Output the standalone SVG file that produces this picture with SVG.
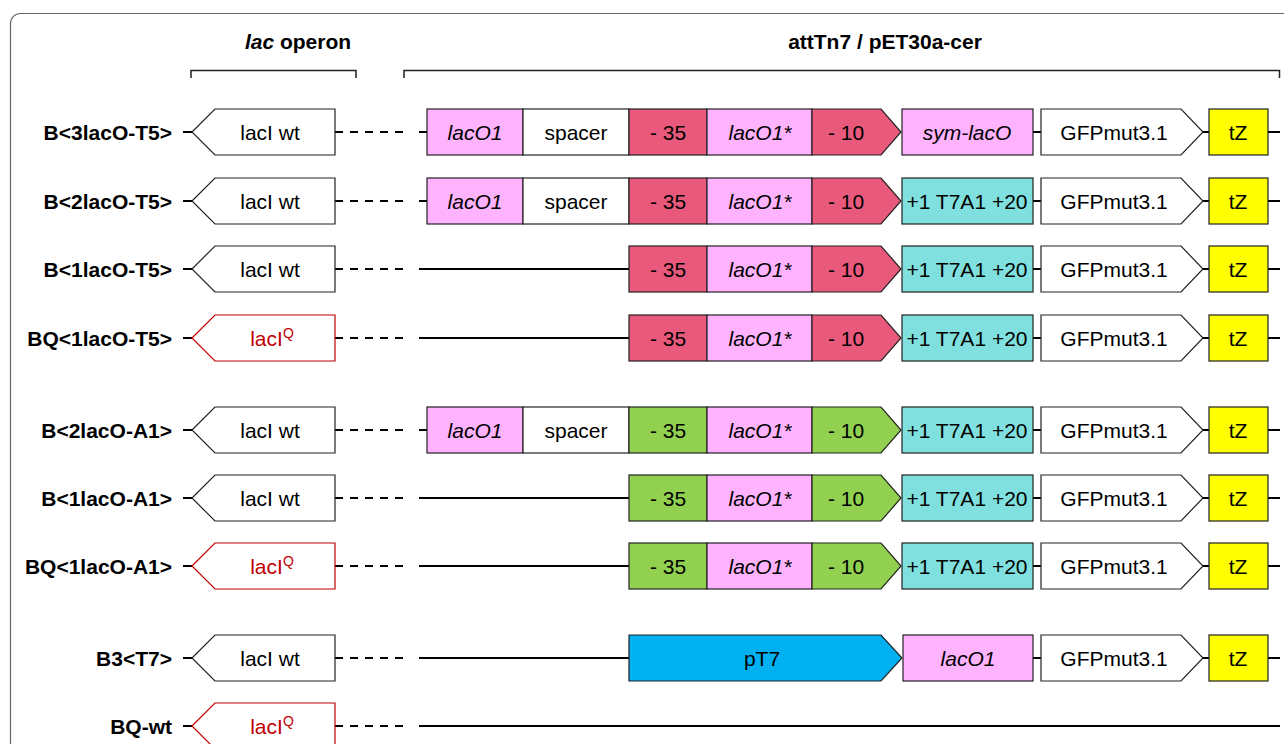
<svg xmlns="http://www.w3.org/2000/svg" width="1284" height="744" viewBox="0 0 1284 744">
  <style>
    .frame { fill: none; stroke: #666; stroke-width: 1.2; }
    .brk { fill: none; stroke: #222; stroke-width: 1.5; }
    .hdr { font: bold 21px "Liberation Sans", Arial, sans-serif; text-anchor: middle; fill: #000; }
    .lbl { font: bold 21px "Liberation Sans", Arial, sans-serif; text-anchor: end; fill: #000; }
    .t { font: 21px "Liberation Sans", Arial, sans-serif; text-anchor: middle; fill: #000; }
    .i { font-style: italic; }
    .box { stroke: #222; stroke-width: 1.2; }
    .qbox { fill: #fff; stroke: #c00000; stroke-width: 1.2; }
    .qt { fill: #c00000; }
    .w { fill: #fff; }
    .p { fill: #ffb3ff; }
    .r { fill: #e8597b; }
    .g { fill: #92d050; }
    .c { fill: #7fe0df; }
    .y { fill: #ffff00; }
    .b { fill: #00b0f0; }
    .wire { fill: none; stroke: #000; stroke-width: 2.2; }
    .dash { stroke-dasharray: 8 7; }
  </style>
  <defs>
    <polygon id="lacI" points="192,0 215,-23 335,-23 335,23 215,23"/>
    <polygon id="m10" points="812,-23 881,-23 901,0 881,23 812,23"/>
    <polygon id="gfp" points="1041,-23 1181,-23 1203,0 1181,23 1041,23"/>
  </defs>

  <!-- outer frame -->
  <rect class="frame" x="10.5" y="13.5" width="1320" height="780" rx="10"/>

  <!-- column headers -->
  <g id="header-lac">
    <text class="hdr" x="298" y="49"><tspan class="i">lac</tspan> operon</text>
    <path class="brk" d="M191 78 V70.5 H356 V78"/>
  </g>
  <g id="header-att">
    <text class="hdr" x="885" y="49">attTn7 / pET30a-cer</text>
    <path class="brk" d="M404 78 V70.5 H1279.5 V78"/>
  </g>

  <!-- connectors: backbone lines of each construct -->
  <g id="connectors">
    <g transform="translate(0,132)">
      <path class="wire" d="M183 0 H192 M1033 0 H1041 M1203 0 H1209 M1268 0 H1280 M419 0 H427"/>
      <path class="wire dash" d="M335 0 H404"/>
    </g>
    <g transform="translate(0,201)">
      <path class="wire" d="M183 0 H192 M1033 0 H1041 M1203 0 H1209 M1268 0 H1280 M419 0 H427"/>
      <path class="wire dash" d="M335 0 H404"/>
    </g>
    <g transform="translate(0,269)">
      <path class="wire" d="M183 0 H192 M1033 0 H1041 M1203 0 H1209 M1268 0 H1280 M419 0 H629"/>
      <path class="wire dash" d="M335 0 H404"/>
    </g>
    <g transform="translate(0,338)">
      <path class="wire" d="M183 0 H192 M1033 0 H1041 M1203 0 H1209 M1268 0 H1280 M419 0 H629"/>
      <path class="wire dash" d="M335 0 H404"/>
    </g>
    <g transform="translate(0,430)">
      <path class="wire" d="M183 0 H192 M1033 0 H1041 M1203 0 H1209 M1268 0 H1280 M419 0 H427"/>
      <path class="wire dash" d="M335 0 H404"/>
    </g>
    <g transform="translate(0,498)">
      <path class="wire" d="M183 0 H192 M1033 0 H1041 M1203 0 H1209 M1268 0 H1280 M419 0 H629"/>
      <path class="wire dash" d="M335 0 H404"/>
    </g>
    <g transform="translate(0,566)">
      <path class="wire" d="M183 0 H192 M1033 0 H1041 M1203 0 H1209 M1268 0 H1280 M419 0 H629"/>
      <path class="wire dash" d="M335 0 H404"/>
    </g>
    <g transform="translate(0,658)">
      <path class="wire" d="M183 0 H192 M1033 0 H1041 M1203 0 H1209 M1268 0 H1280 M419 0 H629"/>
      <path class="wire dash" d="M335 0 H404"/>
    </g>
    <g transform="translate(0,726)">
      <path class="wire" d="M183 0 H192 M419 0 H1280"/>
      <path class="wire dash" d="M335 0 H404"/>
    </g>
  </g>

  <!-- B<3lacO-T5> -->
  <g id="row-B3lacO-T5" transform="translate(0,132)">
    <text class="lbl" x="172" y="7.5">B&lt;3lacO-T5&gt;</text>
    <g id="r1-lacI"><use href="#lacI" class="box w"/><text class="t" x="270" y="7.5">lacI wt</text></g>
    <g id="r1-lacO1"><rect class="box p" x="427" y="-23" width="96" height="46"/><text class="t i" x="475" y="7.5">lacO1</text></g>
    <g id="r1-spacer"><rect class="box w" x="523" y="-23" width="106" height="46"/><text class="t" x="576" y="7.5">spacer</text></g>
    <g id="r1-m35"><rect class="box r" x="629" y="-23" width="78" height="46"/><text class="t" x="668" y="7.5">- 35</text></g>
    <g id="r1-lacO1s"><rect class="box p" x="707" y="-23" width="105" height="46"/><text class="t i" x="760" y="7.5">lacO1*</text></g>
    <g id="r1-m10"><use href="#m10" class="box r"/><text class="t" x="846" y="7.5">- 10</text></g>
    <g id="r1-symlacO"><rect class="box p" x="902" y="-23" width="131" height="46"/><text class="t i" x="967" y="7.5">sym-lacO</text></g>
    <g id="r1-gfp"><use href="#gfp" class="box w"/><text class="t" x="1114" y="7.5">GFPmut3.1</text></g>
    <g id="r1-tZ"><rect class="box y" x="1209" y="-23" width="59" height="46"/><text class="t" x="1238" y="7.5">tZ</text></g>
  </g>

  <!-- B<2lacO-T5> -->
  <g id="row-B2lacO-T5" transform="translate(0,201)">
    <text class="lbl" x="172" y="7.5">B&lt;2lacO-T5&gt;</text>
    <g id="r2-lacI"><use href="#lacI" class="box w"/><text class="t" x="270" y="7.5">lacI wt</text></g>
    <g id="r2-lacO1"><rect class="box p" x="427" y="-23" width="96" height="46"/><text class="t i" x="475" y="7.5">lacO1</text></g>
    <g id="r2-spacer"><rect class="box w" x="523" y="-23" width="106" height="46"/><text class="t" x="576" y="7.5">spacer</text></g>
    <g id="r2-m35"><rect class="box r" x="629" y="-23" width="78" height="46"/><text class="t" x="668" y="7.5">- 35</text></g>
    <g id="r2-lacO1s"><rect class="box p" x="707" y="-23" width="105" height="46"/><text class="t i" x="760" y="7.5">lacO1*</text></g>
    <g id="r2-m10"><use href="#m10" class="box r"/><text class="t" x="846" y="7.5">- 10</text></g>
    <g id="r2-t7a1"><rect class="box c" x="902" y="-23" width="131" height="46"/><text class="t" x="967" y="7.5">+1 T7A1 +20</text></g>
    <g id="r2-gfp"><use href="#gfp" class="box w"/><text class="t" x="1114" y="7.5">GFPmut3.1</text></g>
    <g id="r2-tZ"><rect class="box y" x="1209" y="-23" width="59" height="46"/><text class="t" x="1238" y="7.5">tZ</text></g>
  </g>

  <!-- B<1lacO-T5> -->
  <g id="row-B1lacO-T5" transform="translate(0,269)">
    <text class="lbl" x="172" y="7.5">B&lt;1lacO-T5&gt;</text>
    <g id="r3-lacI"><use href="#lacI" class="box w"/><text class="t" x="270" y="7.5">lacI wt</text></g>
    <g id="r3-m35"><rect class="box r" x="629" y="-23" width="78" height="46"/><text class="t" x="668" y="7.5">- 35</text></g>
    <g id="r3-lacO1s"><rect class="box p" x="707" y="-23" width="105" height="46"/><text class="t i" x="760" y="7.5">lacO1*</text></g>
    <g id="r3-m10"><use href="#m10" class="box r"/><text class="t" x="846" y="7.5">- 10</text></g>
    <g id="r3-t7a1"><rect class="box c" x="902" y="-23" width="131" height="46"/><text class="t" x="967" y="7.5">+1 T7A1 +20</text></g>
    <g id="r3-gfp"><use href="#gfp" class="box w"/><text class="t" x="1114" y="7.5">GFPmut3.1</text></g>
    <g id="r3-tZ"><rect class="box y" x="1209" y="-23" width="59" height="46"/><text class="t" x="1238" y="7.5">tZ</text></g>
  </g>

  <!-- BQ<1lacO-T5> -->
  <g id="row-BQ1lacO-T5" transform="translate(0,338)">
    <text class="lbl" x="172" y="7.5">BQ&lt;1lacO-T5&gt;</text>
    <g id="r4-lacIQ"><use href="#lacI" class="qbox"/><text class="t qt" x="272" y="7.5">lacI<tspan font-size="14" dy="-8">Q</tspan></text></g>
    <g id="r4-m35"><rect class="box r" x="629" y="-23" width="78" height="46"/><text class="t" x="668" y="7.5">- 35</text></g>
    <g id="r4-lacO1s"><rect class="box p" x="707" y="-23" width="105" height="46"/><text class="t i" x="760" y="7.5">lacO1*</text></g>
    <g id="r4-m10"><use href="#m10" class="box r"/><text class="t" x="846" y="7.5">- 10</text></g>
    <g id="r4-t7a1"><rect class="box c" x="902" y="-23" width="131" height="46"/><text class="t" x="967" y="7.5">+1 T7A1 +20</text></g>
    <g id="r4-gfp"><use href="#gfp" class="box w"/><text class="t" x="1114" y="7.5">GFPmut3.1</text></g>
    <g id="r4-tZ"><rect class="box y" x="1209" y="-23" width="59" height="46"/><text class="t" x="1238" y="7.5">tZ</text></g>
  </g>

  <!-- B<2lacO-A1> -->
  <g id="row-B2lacO-A1" transform="translate(0,430)">
    <text class="lbl" x="172" y="7.5">B&lt;2lacO-A1&gt;</text>
    <g id="r5-lacI"><use href="#lacI" class="box w"/><text class="t" x="270" y="7.5">lacI wt</text></g>
    <g id="r5-lacO1"><rect class="box p" x="427" y="-23" width="96" height="46"/><text class="t i" x="475" y="7.5">lacO1</text></g>
    <g id="r5-spacer"><rect class="box w" x="523" y="-23" width="106" height="46"/><text class="t" x="576" y="7.5">spacer</text></g>
    <g id="r5-m35"><rect class="box g" x="629" y="-23" width="78" height="46"/><text class="t" x="668" y="7.5">- 35</text></g>
    <g id="r5-lacO1s"><rect class="box p" x="707" y="-23" width="105" height="46"/><text class="t i" x="760" y="7.5">lacO1*</text></g>
    <g id="r5-m10"><use href="#m10" class="box g"/><text class="t" x="846" y="7.5">- 10</text></g>
    <g id="r5-t7a1"><rect class="box c" x="902" y="-23" width="131" height="46"/><text class="t" x="967" y="7.5">+1 T7A1 +20</text></g>
    <g id="r5-gfp"><use href="#gfp" class="box w"/><text class="t" x="1114" y="7.5">GFPmut3.1</text></g>
    <g id="r5-tZ"><rect class="box y" x="1209" y="-23" width="59" height="46"/><text class="t" x="1238" y="7.5">tZ</text></g>
  </g>

  <!-- B<1lacO-A1> -->
  <g id="row-B1lacO-A1" transform="translate(0,498)">
    <text class="lbl" x="172" y="7.5">B&lt;1lacO-A1&gt;</text>
    <g id="r6-lacI"><use href="#lacI" class="box w"/><text class="t" x="270" y="7.5">lacI wt</text></g>
    <g id="r6-m35"><rect class="box g" x="629" y="-23" width="78" height="46"/><text class="t" x="668" y="7.5">- 35</text></g>
    <g id="r6-lacO1s"><rect class="box p" x="707" y="-23" width="105" height="46"/><text class="t i" x="760" y="7.5">lacO1*</text></g>
    <g id="r6-m10"><use href="#m10" class="box g"/><text class="t" x="846" y="7.5">- 10</text></g>
    <g id="r6-t7a1"><rect class="box c" x="902" y="-23" width="131" height="46"/><text class="t" x="967" y="7.5">+1 T7A1 +20</text></g>
    <g id="r6-gfp"><use href="#gfp" class="box w"/><text class="t" x="1114" y="7.5">GFPmut3.1</text></g>
    <g id="r6-tZ"><rect class="box y" x="1209" y="-23" width="59" height="46"/><text class="t" x="1238" y="7.5">tZ</text></g>
  </g>

  <!-- BQ<1lacO-A1> -->
  <g id="row-BQ1lacO-A1" transform="translate(0,566)">
    <text class="lbl" x="172" y="7.5">BQ&lt;1lacO-A1&gt;</text>
    <g id="r7-lacIQ"><use href="#lacI" class="qbox"/><text class="t qt" x="272" y="7.5">lacI<tspan font-size="14" dy="-8">Q</tspan></text></g>
    <g id="r7-m35"><rect class="box g" x="629" y="-23" width="78" height="46"/><text class="t" x="668" y="7.5">- 35</text></g>
    <g id="r7-lacO1s"><rect class="box p" x="707" y="-23" width="105" height="46"/><text class="t i" x="760" y="7.5">lacO1*</text></g>
    <g id="r7-m10"><use href="#m10" class="box g"/><text class="t" x="846" y="7.5">- 10</text></g>
    <g id="r7-t7a1"><rect class="box c" x="902" y="-23" width="131" height="46"/><text class="t" x="967" y="7.5">+1 T7A1 +20</text></g>
    <g id="r7-gfp"><use href="#gfp" class="box w"/><text class="t" x="1114" y="7.5">GFPmut3.1</text></g>
    <g id="r7-tZ"><rect class="box y" x="1209" y="-23" width="59" height="46"/><text class="t" x="1238" y="7.5">tZ</text></g>
  </g>

  <!-- B3<T7> -->
  <g id="row-B3T7" transform="translate(0,658)">
    <text class="lbl" x="172" y="7.5">B3&lt;T7&gt;</text>
    <g id="r8-lacI"><use href="#lacI" class="box w"/><text class="t" x="270" y="7.5">lacI wt</text></g>
    <g id="r8-pT7"><polygon class="box b" points="629,-23 881,-23 902,0 881,23 629,23"/><text class="t" x="762" y="7.5">pT7</text></g>
    <g id="r8-lacO1"><rect class="box p" x="903" y="-23" width="130" height="46"/><text class="t i" x="968" y="7.5">lacO1</text></g>
    <g id="r8-gfp"><use href="#gfp" class="box w"/><text class="t" x="1114" y="7.5">GFPmut3.1</text></g>
    <g id="r8-tZ"><rect class="box y" x="1209" y="-23" width="59" height="46"/><text class="t" x="1238" y="7.5">tZ</text></g>
  </g>

  <!-- BQ-wt -->
  <g id="row-BQ-wt" transform="translate(0,726)">
    <text class="lbl" x="172" y="7.5">BQ-wt</text>
    <g id="r9-lacIQ"><use href="#lacI" class="qbox"/><text class="t qt" x="272" y="7.5">lacI<tspan font-size="14" dy="-8">Q</tspan></text></g>
  </g>
</svg>
